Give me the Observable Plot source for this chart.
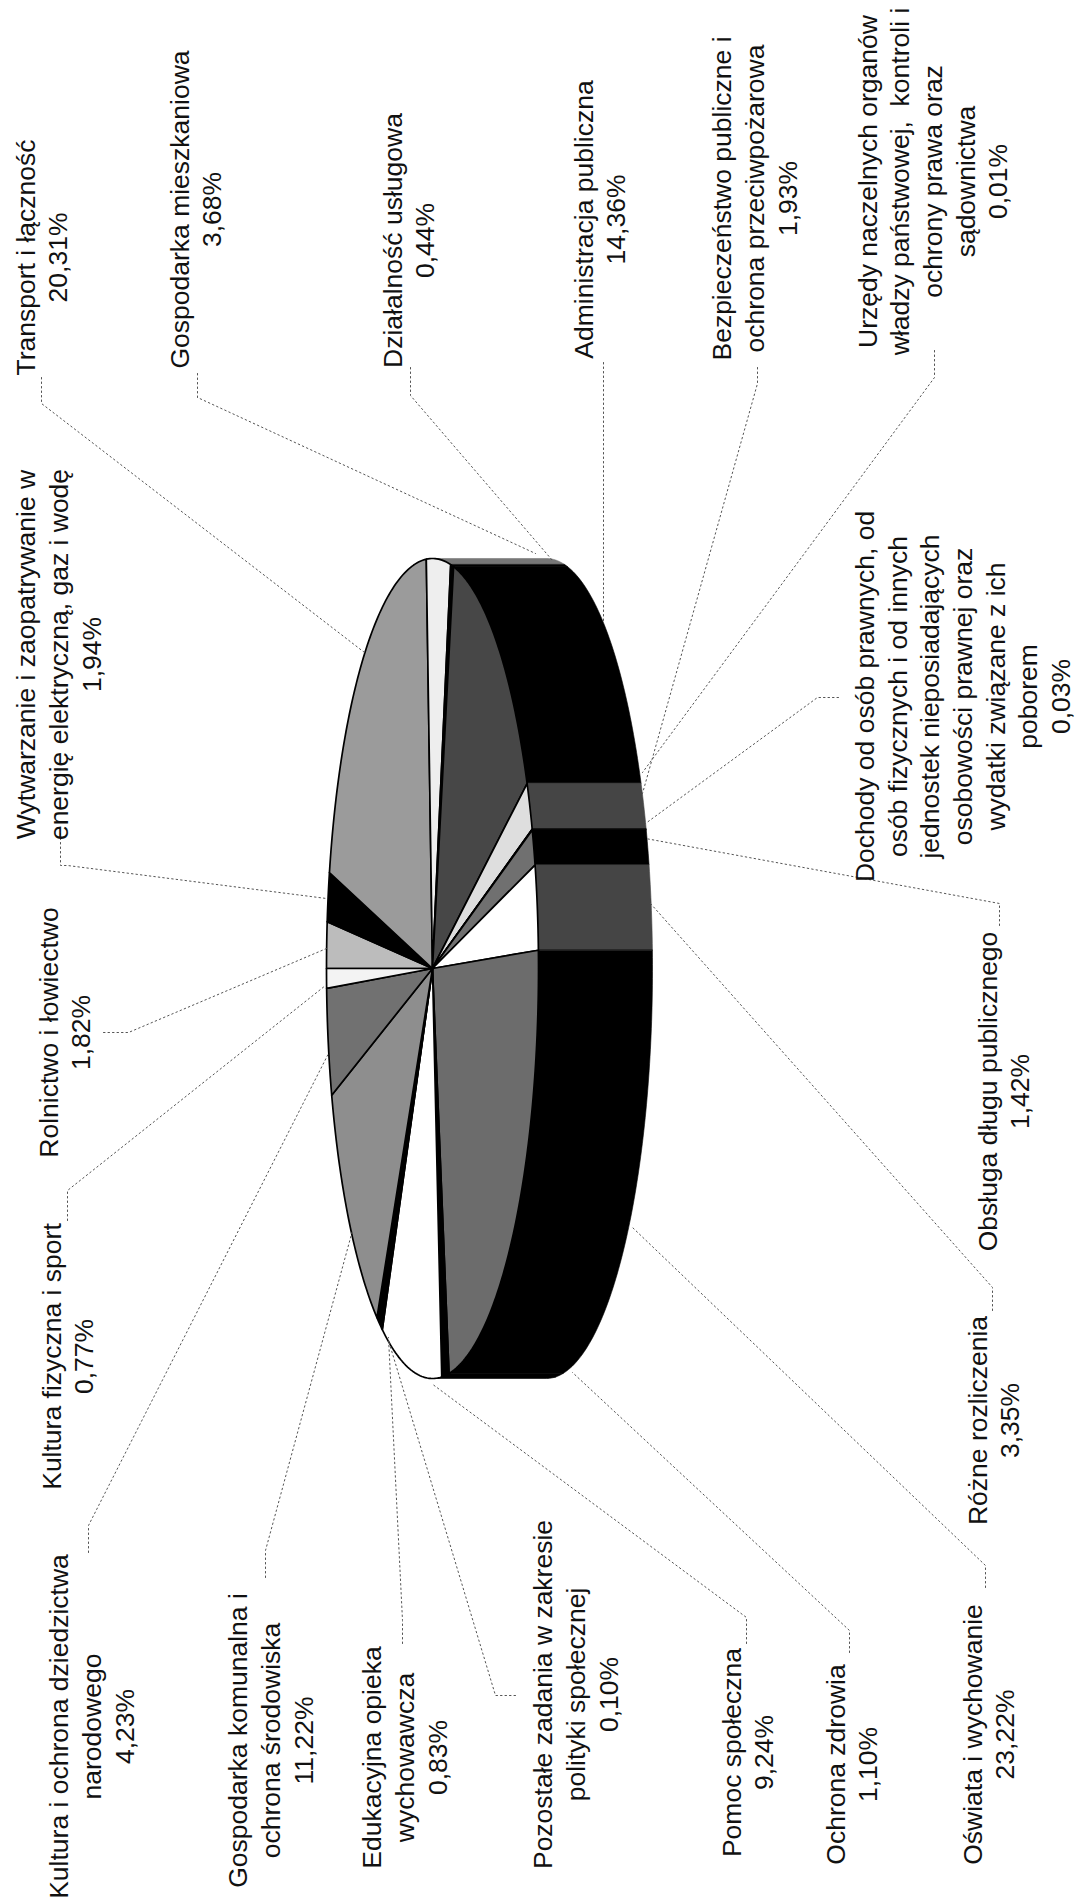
<!DOCTYPE html>
<html lang="pl">
<head>
<meta charset="utf-8">
<script src="https://cdn.jsdelivr.net/npm/d3@7"></script>
<script src="https://cdn.jsdelivr.net/npm/@observablehq/plot@0.6"></script>
<style>
html,body{margin:0;padding:0;background:#fff}
svg{display:block}
</style>
</head>
<body>
<div id="chart"></div>
<script>
// DATA: slices in drawing order (clockwise from the pie's start angle)
const categories = [
  "Rolnictwo i łowiectwo",
  "Wytwarzanie i zaopatrywanie w\nenergię elektryczną, gaz i wodę",
  "Transport i łączność",
  "Gospodarka mieszkaniowa",
  "Działalność usługowa",
  "Administracja publiczna",
  "Bezpieczeństwo publiczne i\nochrona przeciwpożarowa",
  "Urzędy naczelnych organów\nwładzy państwowej,  kontroli i\nochrony prawa oraz\nsądownictwa",
  "Dochody od osób prawnych, od\nosób fizycznych i od innych\njednostek nieposiadających\nosobowości prawnej oraz\nwydatki związane z ich\npoborem",
  "Obsługa długu publicznego",
  "Różne rozliczenia",
  "Oświata i wychowanie",
  "Ochrona zdrowia",
  "Pomoc społeczna",
  "Pozostałe zadania w zakresie\npolityki społecznej",
  "Edukacyjna opieka\nwychowawcza",
  "Gospodarka komunalna i\nochrona środowiska",
  "Kultura i ochrona dziedzictwa\nnarodowego",
  "Kultura fizyczna i sport"
];
const shares = [1.82,1.94,20.31,3.68,0.44,14.36,1.93,0.01,0.03,1.42,3.35,23.22,1.10,9.24,0.10,0.83,11.22,4.23,0.77];

// STYLE
const topFills  = ["#bcbcbc","#000","#9b9b9b","#eeeeee","#000","#474747","#dedede","#000","#000","#707070","#fff","#6c6c6c","#000","#fff","#000","#000","#8e8e8e","#717171","#f3f3f3"];
const sideFills = ["#000","#000","#000","#777777","#000","#000","#454545","#000","#000","#000","#454545","#000","#000","#000","#000","#000","#000","#000","#000"];

// LAYOUT: pie geometry and label placement, in chart units
const pie = {cx:432, cy:968, rx:106, ry:410, depth:114};
const labelX = [63,57,40,194,407,598,753,931,961,1002,992,987,850,746,574,403,269,90,66];
const labelY = [1032,654,257,209,240,219,198,181,696,1091,1420,1734,1764,1752,1694,1757,1740,1726,1356];
const leaderPaths = [
  [[103,1032],[128,1032],[326,948]],
  [[60,833],[60,865],[67,865],[326,898]],
  [[41,377],[41,403],[364,652]],
  [[197,373],[197,397],[535,553]],
  [[410,367],[410,395],[552,560]],
  [[603,362],[603,623]],
  [[757,367],[757,383],[642,793]],
  [[934,350],[934,377],[642,772]],
  [[838,697],[817,697],[645,823]],
  [[999,925],[999,903],[645,838]],
  [[992,1310],[992,1287],[650,903]],
  [[985,1587],[985,1565],[632,1227]],
  [[849,1652],[849,1630],[572,1372]],
  [[746,1643],[746,1617],[431,1383]],
  [[515,1695],[495,1695],[388,1340]],
  [[402,1643],[402,1620],[388,1337]],
  [[265,1577],[265,1550],[352,1230]],
  [[88,1552],[88,1525],[328,1053]],
  [[67,1220],[67,1190],[325,985]]
];

// Angle is measured clockwise from the left of the (rotated) pie.
const total = d3.sum(shares);
const rim = deg => {
  const t = deg * Math.PI / 180;
  return [pie.cx - pie.rx * Math.cos(t), pie.cy - pie.ry * Math.sin(t)];
};
const range = (a, b) => {
  const out = [];
  const n = Math.max(1, Math.ceil(b - a));
  for (let i = 0; i <= n; ++i) out.push(a + (b - a) * i / n);
  return out;
};

const topPoints = [], sidePoints = [], labels = [], leaders = [];
let acc = 0;
shares.forEach((share, i) => {
  const a0 = acc / total * 360;
  acc += share;
  const a1 = acc / total * 360;
  topPoints.push({id:i, x:pie.cx, y:pie.cy, fill:topFills[i]});
  for (const a of range(a0, a1)) {
    const [x, y] = rim(a);
    topPoints.push({id:i, x, y, fill:topFills[i]});
  }
  const s0 = Math.max(a0, 90), s1 = Math.min(a1, 270);
  if (s1 > s0) {
    const arc = range(s0, s1);
    for (const a of arc) {
      const [x, y] = rim(a);
      sidePoints.push({id:i, x, y, fill:sideFills[i]});
    }
    for (const a of arc.slice().reverse()) {
      const [x, y] = rim(a);
      sidePoints.push({id:i, x:x + pie.depth, y, fill:sideFills[i]});
    }
  }
  labels.push({
    x:labelX[i], y:labelY[i],
    text:categories[i] + "\n" + share.toFixed(2).replace(".", ",") + "%"
  });
  leaderPaths[i].forEach(([x, y]) => leaders.push({id:i, x, y}));
});

const chart = Plot.plot({
  width:1077, height:1902,
  margin:0,
  x:{domain:[0,1077], range:[0,1077], axis:null},
  y:{domain:[0,1902], range:[0,1902], axis:null},
  color:{type:"identity"},
  marks:[
    Plot.line(sidePoints, {x:"x", y:"y", z:"id", fill:"fill", stroke:"fill", strokeWidth:0.6, curve:"linear-closed"}),
    Plot.line(topPoints, {x:"x", y:"y", z:"id", fill:"fill", stroke:"#000", strokeWidth:1.7, strokeLinejoin:"round", curve:"linear-closed"}),
    Plot.line(leaders, {x:"x", y:"y", z:"id", stroke:"#555", strokeWidth:1, strokeDasharray:"1.5 3"}),
    Plot.text(labels, {
      x:"x", y:"y", text:"text", rotate:-90,
      textAnchor:"middle", lineAnchor:"middle", lineHeight:1.23,
      fontFamily:"'Liberation Sans', Arial, sans-serif", fontSize:26.5, fill:"#111"
    })
  ]
});
document.getElementById("chart").appendChild(chart);
</script>
</body>
</html>
